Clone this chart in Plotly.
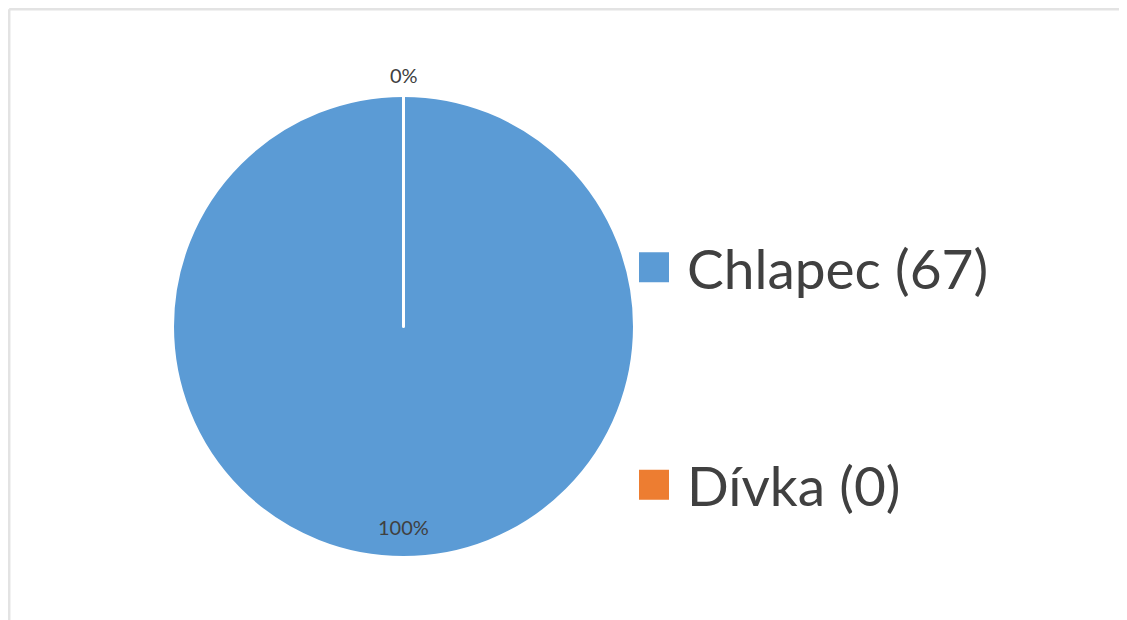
import plotly.graph_objects as go

categories = ["Chlapec", "Dívka"]
counts = [67, 0]
colors = ["#5B9BD5", "#ED7D31"]

W, H = 1127, 620
# pie geometry in figure pixels (page offset of 8px removed)
cx, cy, r = 395.5, 318.5, 231

total = sum(counts)
labels = [f"{c} ({n})" for c, n in zip(categories, counts)]
# blank lines before the second legend entry reproduce the wide spacing
legend_labels = [labels[0], "<br><br>" + labels[1]]
pct_text = [f"{round(100 * v / total)}%" for v in counts]

fig = go.Figure(
    go.Pie(
        labels=legend_labels,
        values=counts,
        sort=False,
        direction="clockwise",
        rotation=0,
        marker=dict(colors=colors, line=dict(color="white", width=3)),
        textinfo="none",
        domain=dict(x=[(cx - r) / W, (cx + r) / W], y=[1 - (cy + r) / H, 1 - (cy - r) / H]),
        hoverinfo="label+value+percent",
    )
)

# percentage labels: largest slice label inside near bottom, zero slice label above top
label_pos_y = [cy + r - 31, cy - r - 21]
annotations = [
    dict(x=cx / W, y=1 - py / H, xref="paper", yref="paper", text=t, showarrow=False,
         xanchor="center", yanchor="middle",
         font=dict(family="Lato", size=20, color="#404040"))
    for t, py in zip(pct_text, label_pos_y)
]

fig.update_layout(
    width=W,
    height=H,
    margin=dict(l=0, r=0, t=0, b=0),
    paper_bgcolor="white",
    plot_bgcolor="white",
    font=dict(family="Lato", color="#404040"),
    showlegend=True,
    legend=dict(
        x=627 / W,
        y=1 - 217 / H,
        xanchor="left",
        yanchor="top",
        valign="bottom",
        itemwidth=42,
        font=dict(family="Lato", size=55, color="#404040"),
        bgcolor="rgba(0,0,0,0)",
    ),
    annotations=annotations,
    shapes=[
        dict(type="line", xref="paper", yref="paper", x0=1.2 / W, x1=1.05, y0=1 - 1.2 / H, y1=1 - 1.2 / H,
             line=dict(color="#E3E3E3", width=2.5), layer="below"),
        dict(type="line", xref="paper", yref="paper", x0=1.2 / W, x1=1.2 / W, y0=-0.05, y1=1 - 1.2 / H,
             line=dict(color="#E3E3E3", width=2.5), layer="below"),
    ],
)

post = """
var gd = document.getElementById('{plot_id}');
function bigSymbols(){
  gd.querySelectorAll('.legendpoints path.legendpie').forEach(function(p){
    p.setAttribute('d','M8,15H-22V-15H8Z');
    p.style.strokeWidth = '0px';
  });
}
bigSymbols();
gd.on('plotly_afterplot', bigSymbols);
"""

fig.write_html("out.html", post_script=post)
